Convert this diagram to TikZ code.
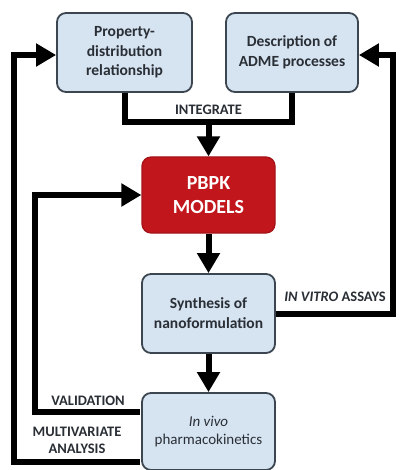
\documentclass[tikz,border=0pt]{standalone}
\usepackage{fontspec}
\setmainfont{Carlito}
\usetikzlibrary{arrows.meta}
\definecolor{boxfill}{HTML}{D6E3F1}
\definecolor{boxdraw}{HTML}{3C4650}
\definecolor{pbpkred}{HTML}{C1161C}
\definecolor{txt}{HTML}{2A2F36}
\begin{document}
\begin{tikzpicture}[x=1pt,y=-1pt,
  bluebox/.style={draw=boxdraw,line width=1.8pt,fill=boxfill,rounded corners=9pt,
    minimum width=133pt,align=center,text=txt,inner sep=0pt},
  redbox/.style={draw=pbpkred!85!black,line width=1.2pt,fill=pbpkred,rounded corners=9pt,
    minimum width=133pt,minimum height=76pt,align=center,text=white,inner sep=0pt,
    font=\fontsize{20}{24}\selectfont\bfseries},
  line/.style={line width=6pt,draw=black},
  arr/.style={line width=6pt,draw=black,-{Triangle[width=22pt,length=20pt]}},
  lab/.style={font=\fontsize{14.5}{17}\selectfont\bfseries,text=txt,align=center,inner sep=0pt}]
\useasboundingbox (0,0) rectangle (399,470);
\fill[white] (0,0) rectangle (399,470);

\node[bluebox,minimum width=135pt,minimum height=79pt,font=\fontsize{15.5}{19.5}\selectfont\bfseries]
  (prop) at (124.5,52.5) {Property-\\distribution\\relationship};
\node[bluebox,minimum width=132pt,minimum height=79pt,font=\fontsize{15.5}{19.5}\selectfont\bfseries]
  (adme) at (292,52.5) {Description of\\ADME processes};
\node[redbox] (pbpk) at (208.5,195) {PBPK\\MODELS};
\node[bluebox,minimum height=79pt,font=\fontsize{15.5}{20}\selectfont\bfseries]
  (synth) at (208.5,313.5) {Synthesis of\\nanoformulation};
\node[bluebox,minimum height=77pt,font=\fontsize{15}{18}\selectfont]
  (inv) at (208.5,431.5) {\textit{In vivo}\\pharmacokinetics};

\coordinate (jl) at (124.5,122);
\coordinate (jr) at (292,122);
\coordinate (jm) at (208.5,122);
\coordinate (rtop) at (393,55);
\coordinate (rbot) at (393,313.5);
\coordinate (vs) at (140,412);
\coordinate (vb) at (35,412);
\coordinate (vt) at (35,195);
\coordinate (ms) at (140,462);
\coordinate (mb) at (14,462);
\coordinate (mt) at (14,55);

% integrate
\draw[line] (prop.south) -- (jl) -- (jr) -- (adme.south);
\draw[arr] (jm) -- (pbpk.north);
\node[lab] (tint) at (208.5,110) {INTEGRATE};

% main chain
\draw[arr] (pbpk.south) -- (synth.north);
\draw[arr] (synth.south) -- (inv.north);

% in vitro
\draw[arr] (synth.east) -- (rbot) -- (rtop) -- (adme.east |- rtop);
\node[lab] (tvit) at (335,297) {\textit{IN VITRO} ASSAYS};

% validation
\draw[arr] (vs) -- (vb) -- (vt) -- (pbpk.west);
\node[lab] (tval) at (88,401) {VALIDATION};

% multivariate
\draw[arr] (ms) -- (mb) -- (mt) -- (prop.west |- mt);
\node[lab] (tmul) at (77,440.5) {MULTIVARIATE\\ANALYSIS};
\end{tikzpicture}
\end{document}
